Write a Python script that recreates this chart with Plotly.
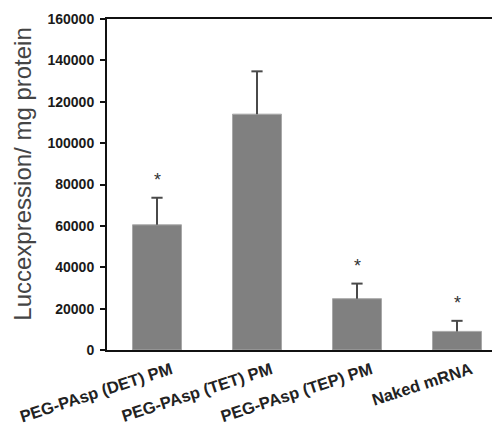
import plotly.graph_objects as go

categories = ["PEG-PAsp (DET) PM", "PEG-PAsp (TET) PM", "PEG-PAsp (TEP) PM", "Naked mRNA"]
values = [60500, 114000, 24800, 9000]
errors = [13100, 20700, 7300, 5100]
significant = [True, False, True, True]
y_ticks = [0, 20000, 40000, 60000, 80000, 100000, 120000, 140000, 160000]
y_title = "Luccexpression/ mg protein"

upper = [v + e for v, e in zip(values, errors)]
err_color = "#4a4a4a"

fig = go.Figure()
fig.add_trace(go.Bar(
    x=categories, y=values, width=0.49,
    marker=dict(color="#808080", line=dict(color="#a8a8a8", width=1)),
))
# whiskers (upper only, no cap at bar top)
fig.add_trace(go.Scatter(
    x=categories, y=values, mode="markers", marker=dict(size=1, opacity=0),
    error_y=dict(type="data", array=errors, arrayminus=[0] * len(errors), symmetric=False,
                 color=err_color, thickness=2, width=0),
    hoverinfo="skip",
))
# caps
fig.add_trace(go.Scatter(
    x=categories, y=upper, mode="markers",
    marker=dict(symbol="line-ew", size=8, line=dict(color=err_color, width=2)),
    hoverinfo="skip",
))

for c, u, s in zip(categories, upper, significant):
    if s:
        fig.add_annotation(x=c, y=u, text="*", showarrow=False, yshift=18,
                           font=dict(size=18, color="#333333", family="Liberation Sans"))

# y-axis title (placed as rotated annotation to match the original's off-centre position)
fig.add_annotation(
    xref="paper", yref="paper", x=-0.216, y=0.53, xanchor="center", yanchor="middle",
    text=y_title, textangle=-90, showarrow=False,
    font=dict(size=24, family="Liberation Sans", color="#444444"),
)

# the page body has an 8px margin, so the figure is sized to fit inside the 500x431 window
fig.update_layout(
    width=492, height=423,
    margin=dict(l=99, r=0, t=11, b=81, autoexpand=False),
    plot_bgcolor="white", paper_bgcolor="white",
    showlegend=False,
    font=dict(family="Liberation Sans", color="#222222"),
    xaxis=dict(
        range=[-0.5, 3.43], showline=True, mirror=True, linecolor="#111111", linewidth=2,
        ticks="", tickangle=-18, automargin=False, ticklabelshift=14, ticklabelstandoff=2,
        tickfont=dict(size=16.5, family="Liberation Sans", color="#222222", weight="bold"),
        showgrid=False,
    ),
    yaxis=dict(
        range=[0, 160000], tickvals=y_ticks, tickformat="d", automargin=False,
        showline=True, linecolor="#111111", linewidth=2,
        ticks="outside", ticklen=5, tickwidth=1.5, tickcolor="#111111",
        ticklabelstandoff=3,
        tickfont=dict(size=14, family="Liberation Sans", color="#1a1a1a", weight="bold"),
        showgrid=False, zeroline=False,
    ),
)

fig.write_html("out.html")
